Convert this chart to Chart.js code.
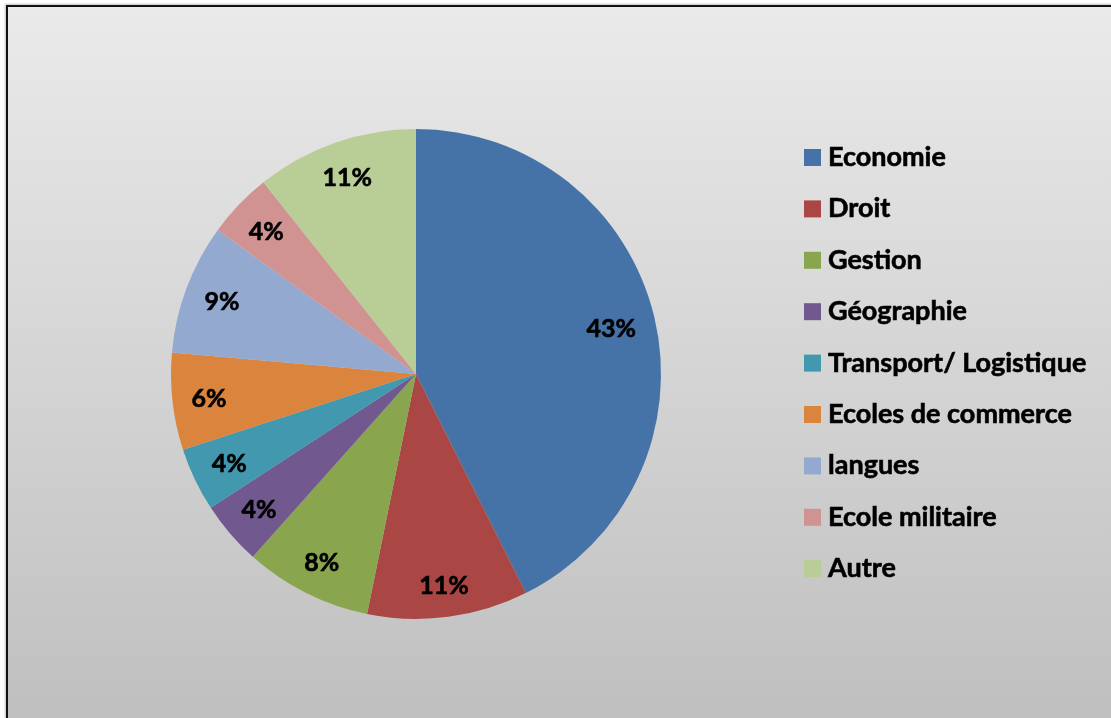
<!DOCTYPE html>
<html>
<head>
<meta charset="utf-8">
<script src="https://cdn.jsdelivr.net/npm/chart.js@4/dist/chart.umd.min.js"></script>
<style>
  html, body { margin: 0; padding: 0; background: #ffffff; overflow: hidden; }
  #frame {
    position: absolute; left: 6px; top: 5px; width: 1200px; height: 800px;
    border: 2px solid #111;
    background: linear-gradient(to bottom, #eaeaea 0px, #bfbfbf 713px);
    box-shadow: -1px -1px 2px rgba(0,0,0,0.25);
  }
  #c { position: absolute; left: 0; top: 0; }
</style>
</head>
<body>
<div id="frame"></div>
<canvas id="c" width="1111" height="718"></canvas>
<script>
const categories = ["Economie", "Droit", "Gestion", "Géographie", "Transport/ Logistique", "Ecoles de commerce", "langues", "Ecole militaire", "Autre"];
const shares = [42.6, 10.6, 8.4, 4.2, 4.2, 6.4, 8.6, 4.3, 10.7];
const colors = ["#4572A7", "#AA4643", "#89A54E", "#71588F", "#4198AF", "#DB843D", "#93A9CF", "#D19392", "#B9CD96"];

const FONT = "Lato, 'Open Sans', 'DejaVu Sans', sans-serif";

const labelPlugin = {
  id: 'sliceLabels',
  afterDatasetsDraw(chart) {
    const ctx = chart.ctx;
    const meta = chart.getDatasetMeta(0);
    const data = chart.data.datasets[0].data;
    const total = data.reduce((a, b) => a + b, 0);
    ctx.save();
    ctx.font = "bold 25px " + FONT;
    ctx.fillStyle = "#000";
    ctx.strokeStyle = "#000";
    ctx.lineWidth = 0.6;
    ctx.textAlign = "center";
    ctx.textBaseline = "middle";
    meta.data.forEach((arc, i) => {
      const p = arc.getProps(['x', 'y', 'startAngle', 'endAngle', 'outerRadius'], true);
      const mid = (p.startAngle + p.endAngle) / 2;
      const txt = Math.round(data[i] / total * 100) + "%";
      const w = ctx.measureText(txt).width;
      const h = 20;
      const cx = Math.cos(mid), sy = Math.sin(mid);
      const b = Math.abs(cx) * w / 2 + Math.abs(sy) * h / 2;
      const R = p.outerRadius - 18;
      const c = (w * w + h * h) / 4 - R * R;
      const d = -b + Math.sqrt(b * b - c);
      ctx.fillText(txt, p.x + cx * d, p.y + sy * d + 1);
      ctx.strokeText(txt, p.x + cx * d, p.y + sy * d + 1);
    });
    ctx.restore();
  }
};

const legendPlugin = {
  id: 'sideLegend',
  afterDraw(chart) {
    const ctx = chart.ctx;
    const labels = chart.data.labels;
    const bg = chart.data.datasets[0].backgroundColor;
    ctx.save();
    ctx.font = "bold 27px " + FONT;
    ctx.textAlign = "left";
    ctx.textBaseline = "alphabetic";
    ctx.strokeStyle = "#000";
    ctx.lineWidth = 0.6;
    labels.forEach((lab, i) => {
      const yc = 157.5 + i * 51.4;
      ctx.fillStyle = bg[i];
      ctx.fillRect(804, yc - 8.5, 17, 17);
      ctx.fillStyle = "#000";
      ctx.fillText(lab, 828, yc + 8.5);
      ctx.strokeText(lab, 828, yc + 8.5);
    });
    ctx.restore();
  }
};

new Chart(document.getElementById('c'), {
  type: 'pie',
  data: {
    labels: categories,
    datasets: [{
      data: shares,
      backgroundColor: colors,
      borderWidth: 0
    }]
  },
  options: {
    responsive: false,
    animation: false,
    layout: { padding: { left: 171, right: 450, top: 129, bottom: 99 } },
    plugins: {
      legend: { display: false },
      tooltip: { enabled: false }
    }
  },
  plugins: [labelPlugin, legendPlugin]
});
</script>
</body>
</html>
